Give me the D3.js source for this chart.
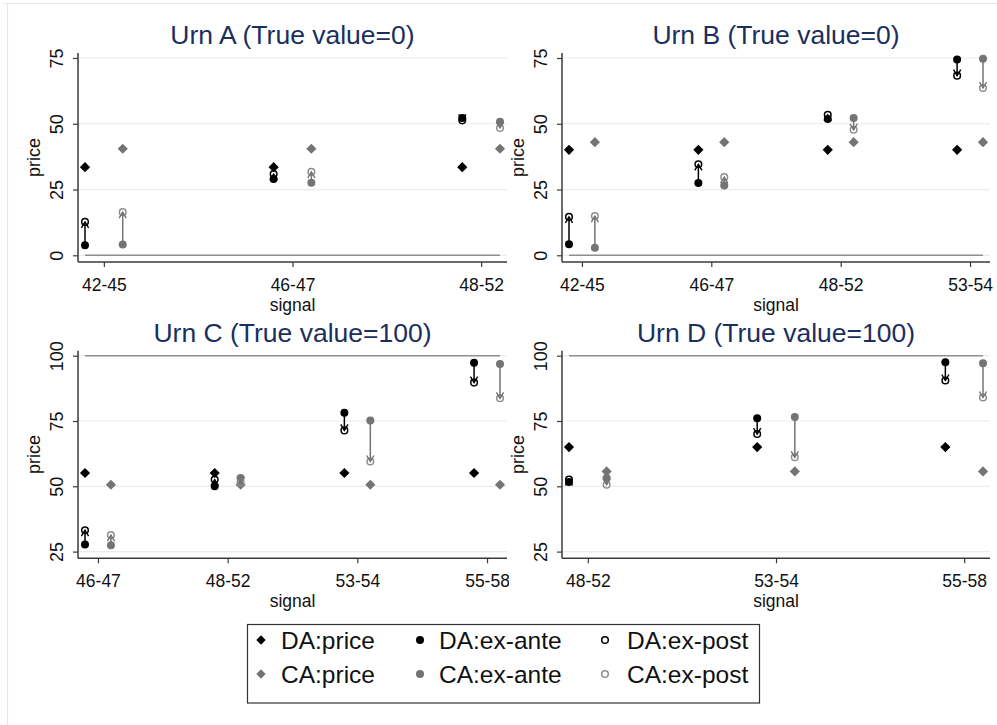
<!DOCTYPE html>
<html><head><meta charset="utf-8">
<script src="https://cdn.jsdelivr.net/npm/d3@7"></script>
<style>
body{margin:0;background:#fff}
svg{display:block}
text{font-family:"Liberation Sans",Arial,sans-serif}
</style>
</head><body>
<svg id="chart" width="997" height="725"></svg>
<script>
// ---------------- data ----------------
const panelTitles = ["Urn A (True value=0)", "Urn B (True value=0)", "Urn C (True value=100)", "Urn D (True value=100)"];
const signalCats = [
  ["42-45", "46-47", "48-52"],
  ["42-45", "46-47", "48-52", "53-54"],
  ["46-47", "48-52", "53-54", "55-58"],
  ["48-52", "53-54", "55-58"]
];
const trueValues = [0, 0, 100, 100];
const yTickValues = [[0, 25, 50, 75], [0, 25, 50, 75], [25, 50, 75, 100], [25, 50, 75, 100]];

const daPrice  = [[33.5, 33.5, 33.5], [40.1, 40.1, 40.1, 40.1], [55.1, 55.1, 55.1, 55.1], [65, 65, 65]];
const daExAnte = [[3.8, 29, 52.2], [4.2, 27.5, 51.8, 74.4], [27.7, 50, 78.2, 97.3], [51.6, 76.1, 97.5]];
const daExPost = [[12.7, 30.9, 51.3], [14.6, 34.6, 53.4, 68.3], [33.2, 52.6, 71.4, 89.7], [52.6, 70, 90.5]];
const caPrice  = [[40.5, 40.5, 40.5], [43, 43, 43, 43], [50.6, 50.6, 50.6, 50.6], [55.7, 55.7, 55.7]];
const caExAnte = [[4.1, 27.6, 50.8], [2.9, 26.5, 52.2, 74.7], [27.4, 53.2, 75.2, 96.8], [53.2, 76.5, 97.1]];
const caExPost = [[16.4, 31.7, 48.4], [14.9, 29.7, 47.7, 63.6], [31.3, 51.5, 59.5, 83.7], [50.6, 61.1, 84]];

const legendLabels = ["DA:price", "DA:ex-ante", "DA:ex-post", "CA:price", "CA:ex-ante", "CA:ex-post"];

// ---------------- layout / style ----------------
const panelBoxes = [
  {left: 78,  right: 507, top: 53,    bottom: 262,   clipR: 509},
  {left: 562, right: 990, top: 53,    bottom: 262,   clipR: 997},
  {left: 78,  right: 507, top: 350.7, bottom: 558.3, clipR: 509},
  {left: 562, right: 990, top: 350.7, bottom: 558.3, clipR: 997}
];
const titleBaseline = [44, 44, 341.7, 341.7];
const colDA = "#000000", colCA = "#747474", colCApost = "#8e8e8e";
const titleColor = "#1b2f5f";
const axisColor = "#3a3a3a";
const gridColor = "#e6edf0";

const svg = d3.select("#chart");

// outer frame remnants
svg.append("line").attr("x1", 4).attr("x2", 997).attr("y1", 3.5).attr("y2", 3.5)
  .attr("stroke", "#e2e8ec").attr("stroke-width", 1.2);
svg.append("line").attr("x1", 7.5).attr("x2", 7.5).attr("y1", 3.5).attr("y2", 725)
  .attr("stroke", "#e2e8ec").attr("stroke-width", 1.2);

// arrow markers
const defs = svg.append("defs");
function addMarker(id, color) {
  defs.append("marker").attr("id", id)
    .attr("viewBox", "-8 -5 10 10").attr("refX", 0).attr("refY", 0)
    .attr("markerWidth", 10).attr("markerHeight", 10)
    .attr("markerUnits", "userSpaceOnUse").attr("orient", "auto")
    .append("path").attr("d", "M-6,-3.6 L0,0 L-6,3.6")
    .attr("fill", "none").attr("stroke", color).attr("stroke-width", 1.4);
}
addMarker("arrDA", colDA);
addMarker("arrCA", colCA);

const diamondPath = d3.symbol().type(d3.symbolSquare).size(52)();

panelBoxes.forEach((b, p) => {
  defs.append("clipPath").attr("id", "clip" + p)
    .append("rect").attr("x", 0).attr("y", 0).attr("width", b.clipR).attr("height", 725);

  const cats = signalCats[p];
  const n = cats.length;
  const yt = yTickValues[p];
  const x = d3.scaleLinear().domain([0.9, n + 0.1]).range([b.left + 7, b.right - 7]);
  const y = d3.scaleLinear().domain([yt[0], yt[yt.length - 1]]).range([b.bottom - 6.7, b.top + 5]);
  const g = svg.append("g").attr("clip-path", `url(#clip${p})`);

  // gridlines
  g.selectAll(".grid").data(yt).join("line")
    .attr("x1", b.left).attr("x2", b.right)
    .attr("y1", d => y(d)).attr("y2", d => y(d))
    .attr("stroke", gridColor).attr("stroke-width", 1.2);

  // title
  g.append("text").attr("x", (b.left + b.right) / 2).attr("y", titleBaseline[p])
    .attr("text-anchor", "middle").attr("font-size", 26.5).attr("fill", titleColor)
    .text(panelTitles[p]);

  // true-value line
  const tv = [{xv: 0.9, v: trueValues[p]}, {xv: n + 0.1, v: trueValues[p]}];
  g.append("path").datum(tv)
    .attr("d", d3.line().x(d => x(d.xv)).y(d => y(d.v)))
    .attr("stroke", "#8f8f8f").attr("stroke-width", 1.6).attr("fill", "none");

  // y axis
  const ya = g.append("g").attr("transform", `translate(${b.left},0)`)
    .call(d3.axisLeft(y).tickValues(yt).tickSize(5).tickFormat(d3.format("d")));
  ya.select(".domain").remove();
  ya.selectAll(".tick line").attr("stroke", axisColor).attr("stroke-width", 1.2);
  ya.selectAll(".tick text").attr("x", null).attr("dy", null)
    .attr("transform", "translate(-15,0) rotate(-90)")
    .attr("text-anchor", "middle").attr("font-size", 18).attr("fill", "#111")
    .style("font-family", '"Liberation Sans",Arial,sans-serif');
  g.append("line").attr("x1", b.left).attr("x2", b.left).attr("y1", b.top).attr("y2", b.bottom)
    .attr("stroke", axisColor).attr("stroke-width", 1.5);
  g.append("text").attr("transform", `translate(${b.left - 38},${(b.top + b.bottom) / 2}) rotate(-90)`)
    .attr("text-anchor", "middle").attr("font-size", 18).attr("fill", "#111").text("price");

  // x axis
  const xa = g.append("g").attr("transform", `translate(0,${b.bottom})`)
    .call(d3.axisBottom(x).tickValues(d3.range(1, n + 1)).tickSize(5).tickFormat(i => cats[i - 1]));
  xa.select(".domain").remove();
  xa.selectAll(".tick line").attr("stroke", axisColor).attr("stroke-width", 1.2);
  xa.selectAll(".tick text").attr("y", 28.5).attr("dy", null)
    .attr("font-size", 17.5).attr("fill", "#111")
    .style("font-family", '"Liberation Sans",Arial,sans-serif');
  g.append("line").attr("x1", b.left).attr("x2", b.right).attr("y1", b.bottom).attr("y2", b.bottom)
    .attr("stroke", axisColor).attr("stroke-width", 1.5);
  g.append("text").attr("x", (b.left + b.right) / 2).attr("y", b.bottom + 48.5)
    .attr("text-anchor", "middle").attr("font-size", 17.5).attr("fill", "#111").text("signal");

  // series
  const groups = [
    {off: -0.1, price: daPrice[p], ante: daExAnte[p], post: daExPost[p], col: colDA, postCol: colDA, arr: "arrDA"},
    {off: 0.1, price: caPrice[p], ante: caExAnte[p], post: caExPost[p], col: colCA, postCol: colCApost, arr: "arrCA"}
  ];
  groups.forEach(s => {
    const idx = d3.range(n);
    g.append("g").selectAll("path").data(idx).join("path")
      .attr("d", diamondPath)
      .attr("transform", i => `translate(${x(i + 1 + s.off)},${y(s.price[i])}) rotate(45)`)
      .attr("fill", s.col);
    g.append("g").selectAll("circle").data(idx).join("circle")
      .attr("cx", i => x(i + 1 + s.off)).attr("cy", i => y(s.ante[i])).attr("r", 4)
      .attr("fill", s.col);
    g.append("g").selectAll("circle").data(idx).join("circle")
      .attr("cx", i => x(i + 1 + s.off)).attr("cy", i => y(s.post[i])).attr("r", 3.3)
      .attr("fill", "none").attr("stroke", s.postCol).attr("stroke-width", 1.5);
    g.append("g").selectAll("line").data(idx).join("line")
      .attr("x1", i => x(i + 1 + s.off)).attr("x2", i => x(i + 1 + s.off))
      .attr("y1", i => y(s.ante[i])).attr("y2", i => y(s.post[i]))
      .attr("stroke", s.col).attr("stroke-width", 1.5)
      .attr("marker-end", `url(#${s.arr})`);
  });
});

// legend
const lg = svg.append("g");
lg.append("rect").attr("x", 247.5).attr("y", 624.5).attr("width", 512).attr("height", 78.5)
  .attr("fill", "#fff").attr("stroke", "#333").attr("stroke-width", 1.2);
const legCols = [{sx: 261, tx: 281}, {sx: 420, tx: 439}, {sx: 605, tx: 627}];
const legRows = [640, 674];
legendLabels.forEach((lab, i) => {
  const r = Math.floor(i / 3), c = i % 3;
  const cx = legCols[c].sx, cy = legRows[r];
  const col = r === 0 ? colDA : colCA;
  if (c === 0) {
    lg.append("path").attr("d", d3.symbol().type(d3.symbolSquare).size(44)())
      .attr("transform", `translate(${cx},${cy}) rotate(45)`).attr("fill", col);
  } else if (c === 1) {
    lg.append("circle").attr("cx", cx).attr("cy", cy).attr("r", 4).attr("fill", col);
  } else {
    lg.append("circle").attr("cx", cx).attr("cy", cy).attr("r", 3.3)
      .attr("fill", "none").attr("stroke", r === 0 ? colDA : colCApost).attr("stroke-width", 1.5);
  }
  lg.append("text").attr("x", legCols[c].tx).attr("y", cy + 8.5)
    .attr("font-size", 24.5).attr("fill", "#111").text(lab);
});
</script>
</body></html>
